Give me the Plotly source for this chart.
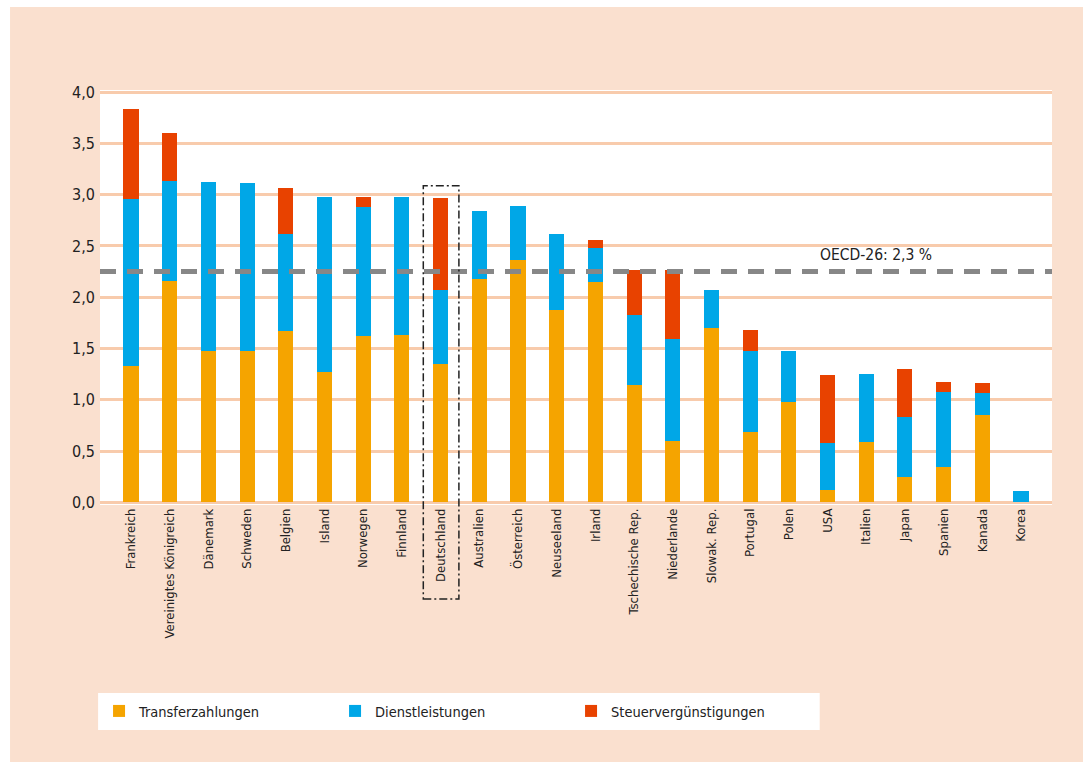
import plotly.graph_objects as go

# Werte (in % des BIP)
laender = [
    "Frankreich", "Vereinigtes Königreich", "Dänemark", "Schweden", "Belgien",
    "Island", "Norwegen", "Finnland", "Deutschland", "Australien", "Österreich",
    "Neuseeland", "Irland", "Tschechische Rep.", "Niederlande", "Slowak. Rep.",
    "Portugal", "Polen", "USA", "Italien", "Japan", "Spanien", "Kanada", "Korea",
]
transfer = [1.33, 2.16, 1.48, 1.48, 1.67, 1.27, 1.62, 1.63, 1.35, 2.18, 2.36, 1.88,
            2.15, 1.14, 0.60, 1.70, 0.69, 0.98, 0.12, 0.59, 0.25, 0.35, 0.85, 0.00]
dienst = [1.63, 0.97, 1.64, 1.63, 0.95, 1.71, 1.26, 1.35, 0.72, 0.66, 0.53, 0.74,
          0.33, 0.69, 0.99, 0.37, 0.79, 0.50, 0.46, 0.66, 0.58, 0.73, 0.22, 0.11]
steuer = [0.87, 0.47, 0.00, 0.00, 0.44, 0.00, 0.10, 0.00, 0.90, 0.00, 0.00, 0.00,
          0.08, 0.44, 0.68, 0.00, 0.20, 0.00, 0.66, 0.00, 0.47, 0.09, 0.09, 0.00]
oecd_schnitt = 2.25
y_ticks = [0, 0.5, 1.0, 1.5, 2.0, 2.5, 3.0, 3.5, 4.0]

FONT = "Liberation Sans Narrow, DejaVu Sans Condensed, Arial Narrow, sans-serif"
c_transfer = "#F5A400"
c_dienst = "#00A7E7"
c_steuer = "#E84200"
c_bg = "#FAE0CF"
c_grid = "#F8CBAC"

fig = go.Figure()
for name, vals, col in [("Transferzahlungen", transfer, c_transfer),
                        ("Dienstleistungen", dienst, c_dienst),
                        ("Steuervergünstigungen", steuer, c_steuer)]:
    fig.add_trace(go.Bar(x=laender, y=vals, name=name, marker_color=col,
                         marker_line_width=0, width=0.39))

shapes = [
    # white strips at top / left edge of the picture
    dict(type="rect", xref="paper", yref="paper", x0=-0.2, x1=-0.0945, y0=-0.7, y1=1.3,
         fillcolor="white", line_width=0, layer="below"),
    dict(type="rect", xref="paper", yref="paper", x0=-0.2, x1=1.1, y0=1.2, y1=1.3,
         fillcolor="white", line_width=0, layer="below"),
    # white legend box
    dict(type="rect", xref="paper", yref="paper", x0=-0.002, x1=0.756, y0=-0.542, y1=-0.453,
         fillcolor="white", line_width=0, layer="below"),
    # OECD average
    dict(type="line", xref="paper", yref="y", x0=0, x1=1, y0=oecd_schnitt, y1=oecd_schnitt,
         line=dict(color="#878787", width=5, dash="16px,11px"), layer="above"),
    # frame around Deutschland
    dict(type="rect", xref="paper", yref="paper", x0=0.3396, x1=0.377, y0=-0.2265, y1=0.7694,
         line=dict(color="#222222", width=1.5, dash="8px,3px,2px,3px"), layer="above"),
]

fig.update_layout(
    width=1083, height=762,
    barmode="stack",
    separators=",.",
    paper_bgcolor=c_bg, plot_bgcolor="white",
    margin=dict(l=100, r=31, t=90, b=257),
    font=dict(family=FONT, size=15, color="#222222"),
    shapes=shapes,
    showlegend=True,
    legend=dict(orientation="h", x=-0.001, xanchor="left", y=-0.4964, yanchor="middle",
                bgcolor="rgba(0,0,0,0)", font=dict(size=14.5, family=FONT),
                entrywidth=191, itemwidth=30, traceorder="normal"),
    annotations=[dict(x=19.26, y=2.41, xref="x", yref="y", text="OECD-26: 2,3 %",
                      showarrow=False, font=dict(size=15.5, family=FONT, color="#222222"))],
)
fig.update_xaxes(range=[-0.8, 23.8], tickangle=-90, showgrid=False, ticks="",
                 tickfont=dict(size=13), showline=False)
fig.update_yaxes(range=[-0.025, 4.02], tickvals=y_ticks, tickformat=".1f",
                 gridcolor=c_grid, gridwidth=3, zeroline=False, showline=False,
                 tickfont=dict(size=16), ticks="", ticklabelstandoff=4)

fig.write_html("out.html", config={"displayModeBar": False},
               post_script="document.body.style.margin='0';")
